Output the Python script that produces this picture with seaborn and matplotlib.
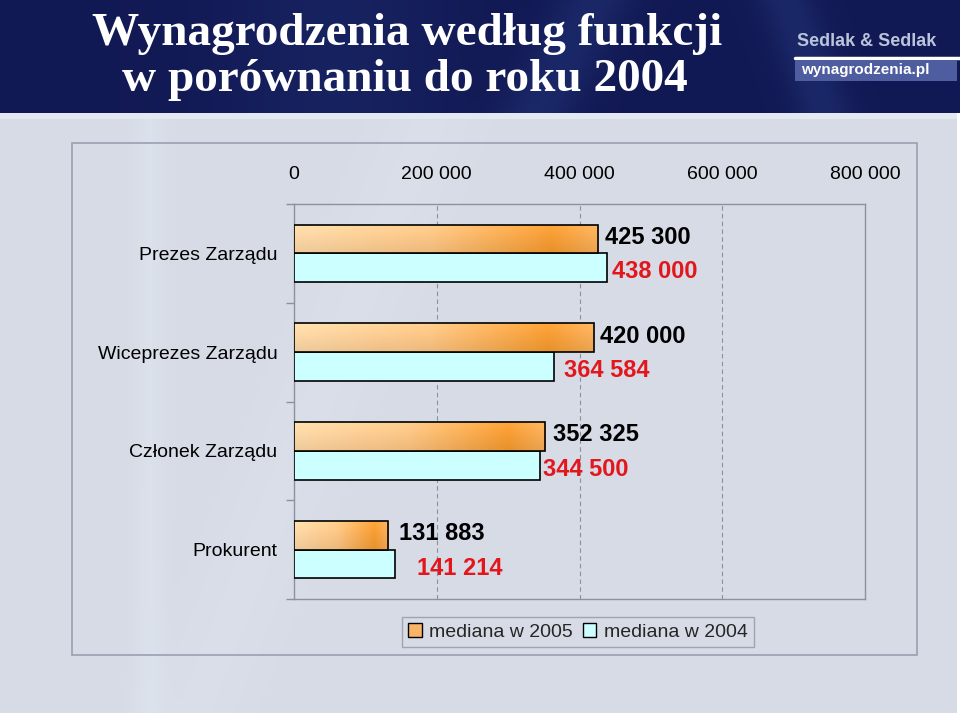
import numpy as np
import pandas as pd
import matplotlib
matplotlib.use("Agg")
import matplotlib.pyplot as plt
import seaborn as sns
from matplotlib.patches import Rectangle
from matplotlib.colors import LinearSegmentedColormap

# ---------------- data ----------------
categories = ["Prezes Zarządu", "Wiceprezes Zarządu", "Członek Zarządu", "Prokurent"]
median_2005 = [425300, 420000, 352325, 131883]
median_2004 = [438000, 364584, 344500, 141214]
series_names = ["mediana w 2005", "mediana w 2004"]
label_2005 = ["425 300", "420 000", "352 325", "131 883"]
label_2004 = ["438 000", "364 584", "344 500", "141 214"]
x_ticks = [0, 200000, 400000, 600000, 800000]
x_tick_labels = ["0", "200 000", "400 000", "600 000", "800 000"]
title_lines = ["Wynagrodzenia według funkcji", "w porównaniu do roku 2004"]

# label offsets (pixels) – style only
off_2005 = [7, 6, 8, 11]
off_2004 = [5, 10, 3, 22]

df = pd.DataFrame({
    "funkcja": categories * 2,
    "wartosc": median_2005 + median_2004,
    "seria": [series_names[0]] * len(categories) + [series_names[1]] * len(categories),
})

ORANGE = "#f9b468"
CYAN = "#ccffff"
BG = "#d7dbe6"
GRID = "#8c919c"

sns.set_theme(style="white")
plt.rcParams['font.family'] = ['Liberation Sans', 'DejaVu Sans']

W, H = 960, 716
fig = plt.figure(figsize=(W / 100, H / 100), dpi=100)
fig.patch.set_facecolor(BG)

# ---------------- background decoration ----------------
bg = fig.add_axes([0, 0, 1, 1], zorder=-10)
bg.set_xlim(0, W)
bg.set_ylim(H, 0)
bg.axis('off')

# lower area: light grey-blue with subtle light streaks
xx = np.linspace(0, 1, 480)
yy = np.linspace(0, 1, 300)
X, Y = np.meshgrid(xx, yy)
base = np.array([0.843, 0.859, 0.902])
light = np.array([0.87, 0.895, 0.935])
s = 0.6 * np.exp(-((X - 0.155) / 0.015) ** 2) + 0.35 * np.exp(-((X + Y * 0.25 - 0.45) / 0.06) ** 2)
s = np.clip(s, 0, 1)[..., None]
img = base * (1 - s) + light * s
bg.imshow(img, extent=[0, W, H, 113], aspect='auto', zorder=0, interpolation='bilinear')

# header: dark navy with subtle lighter streaks
hy = np.linspace(0, 1, 60)
HX, HY = np.meshgrid(xx, hy)
navy = np.array([0.07, 0.10, 0.33])
blue = np.array([0.17, 0.26, 0.55])
hs = (0.35 * np.exp(-((HX - 0.62 + 0.06 * HY) / 0.04) ** 2)
      + 0.35 * np.exp(-((HX - 0.82 - 0.04 * HY) / 0.03) ** 2)
      + 0.20 * np.exp(-((HX - 0.35) / 0.12) ** 2))
hs = np.clip(hs, 0, 1)[..., None]
himg = navy * (1 - hs) + blue * hs
bg.imshow(himg, extent=[0, W, 113, 0], aspect='auto', zorder=1, interpolation='bilinear')
bg.add_patch(Rectangle((0, 113), W, 6, fc="#e3e8f1", ec='none', zorder=2))
bg.add_patch(Rectangle((0, 713), W, 3, fc="white", ec='none', zorder=2))
bg.add_patch(Rectangle((957, 113), 3, H - 113, fc="white", ec='none', zorder=2))

# chart area frame
bg.add_patch(Rectangle((72, 143), 917 - 72, 655 - 143, fc='none', ec="#9aa0b0", lw=1.2, zorder=3))

# logo
bg.plot([795, 960], [58, 58], color='white', lw=2.5, zorder=3)
bg.add_patch(Rectangle((795, 60), 162, 21, fc='#4d5d9f', ec='none', zorder=3))
fig.text(797 / W, 1 - 41 / H, "Sedlak & Sedlak", ha='left', va='center',
         fontsize=13, fontweight='bold', color='#b9c4dc')
fig.text(801 / W, 1 - 70 / H, "wynagrodzenia.pl", ha='left', va='center',
         fontsize=11, fontweight='bold', color='white')

# title
fig.text(407 / W, 1 - 34 / H, title_lines[0], ha='center', va='center', fontsize=34,
         fontweight='bold', color='white', family='Liberation Serif')
fig.text(405 / W, 1 - 80 / H, title_lines[1], ha='center', va='center', fontsize=34,
         fontweight='bold', color='white', family='Liberation Serif')

# ---------------- main chart ----------------
ax = fig.add_axes([294 / W, 1 - 599 / H, (865 - 294) / W, (599 - 204) / H])
ax.set_facecolor('none')

sns.barplot(data=df, y="funkcja", x="wartosc", hue="seria", hue_order=series_names,
            order=categories, orient="h", width=0.58, palette=[ORANGE, CYAN],
            saturation=1, edgecolor="black", linewidth=1.2, legend=False, ax=ax, zorder=3)

ax.set_xlim(0, 800000)
ax.set_ylim(len(categories) - 0.5, -0.5)

# gradient fill on 2005 bars
grad_cmap = LinearSegmentedColormap.from_list(
    "og", [(0, "#fdd8a6"), (0.45, "#fcc583"), (0.85, "#f69a2e"), (1.0, "#f8ae58")])
gx = np.linspace(0, 1, 256)
gy = np.linspace(0, 1, 16)
GX, GY = np.meshgrid(gx, gy)
grad_rgb = grad_cmap(GX)[..., :3]
grad_rgb = grad_rgb * (0.94 + 0.06 * (1 - GY[..., None])) + 0.04 * (1 - GY[..., None])
grad_rgb = np.clip(grad_rgb, 0, 1)

for bar in ax.containers[0]:
    x0, y0 = bar.get_x(), bar.get_y()
    w, h = bar.get_width(), bar.get_height()
    bar.set_facecolor('none')
    bar.set_zorder(4)
    im = ax.imshow(grad_rgb, extent=[x0, x0 + w, y0 + h, y0], origin='upper',
                   aspect='auto', zorder=3.5, interpolation='bilinear')
    im.set_clip_path(bar)

ax.set_xlim(0, 800000)
ax.set_ylim(len(categories) - 0.5, -0.5)

# data labels
px2pt = 0.72
for i, bar in enumerate(ax.containers[0]):
    yc = bar.get_y() + bar.get_height() / 2
    ax.annotate(label_2005[i], xy=(bar.get_width(), yc), xytext=(off_2005[i] * px2pt, 1.2),
                textcoords='offset points', ha='left', va='center', fontsize=17,
                fontweight='bold', color='black', zorder=6)
for i, bar in enumerate(ax.containers[1]):
    yc = bar.get_y() + bar.get_height() / 2
    ax.annotate(label_2004[i], xy=(bar.get_width(), yc), xytext=(off_2004[i] * px2pt, -3),
                textcoords='offset points', ha='left', va='center', fontsize=17,
                fontweight='bold', color='#e3161c', zorder=6)

# axes styling
ax.xaxis.tick_top()
ax.set_xticks(x_ticks, x_tick_labels)
ax.tick_params(axis='x', which='both', top=True, bottom=False, length=0, pad=15,
               labelsize=14, labelcolor='black', labeltop=True, labelbottom=False)
ax.set_yticks(range(len(categories)), categories)
ax.tick_params(axis='y', which='major', left=False, length=0, pad=12, labelsize=14,
               labelcolor='black')
ax.set_yticks(np.arange(-0.5, len(categories), 1.0), minor=True)
ax.tick_params(axis='y', which='minor', left=True, length=6, width=1, color=GRID)
ax.set_xlabel("")
ax.set_ylabel("")
ax.grid(False)
for gx_ in x_ticks[1:-1]:
    ax.axvline(gx_, color=GRID, lw=0.8, ls=(0, (4, 3)), zorder=1)
for sp in ax.spines.values():
    sp.set_visible(True)
    sp.set_color(GRID)
    sp.set_linewidth(1)

# legend
handles = [Rectangle((0, 0), 1, 1, fc=ORANGE, ec='black', lw=1),
           Rectangle((0, 0), 1, 1, fc=CYAN, ec='black', lw=1)]
leg = fig.legend(handles, series_names, loc='center', bbox_to_anchor=(578 / W, 1 - 632 / H),
                 ncol=2, fontsize=14, frameon=True, fancybox=False, edgecolor='#a0a4b0',
                 facecolor=BG, framealpha=1, handlelength=0.7, handleheight=0.7,
                 handletextpad=0.4, columnspacing=0.5, borderpad=0.3)
leg.get_frame().set_linewidth(1)

fig.savefig("out.png", dpi=100, facecolor=fig.get_facecolor())
